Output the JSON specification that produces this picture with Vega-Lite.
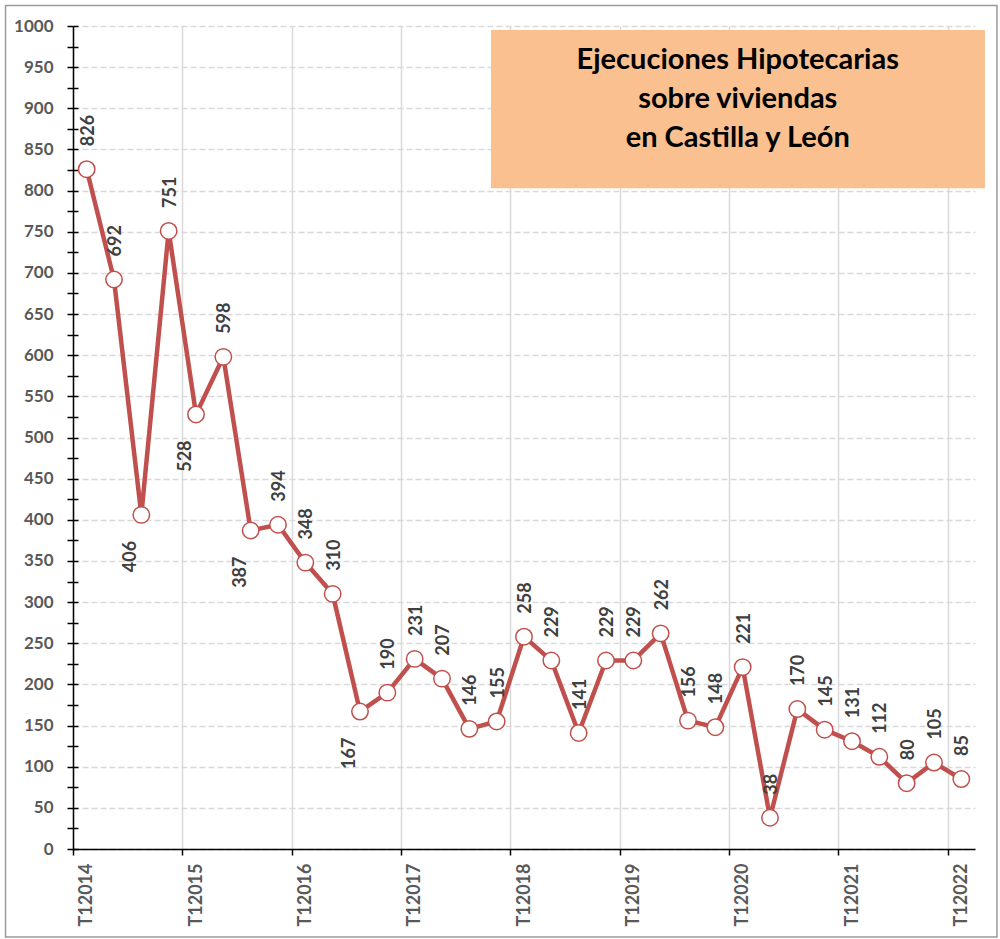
{
  "$schema": "https://vega.github.io/schema/vega-lite/v6.json",
  "width": 902,
  "height": 823,
  "autosize": {"type": "none"},
  "padding": {"left": 73, "top": 26, "right": 25, "bottom": 90},
  "background": "white",
  "config": {"view": {"stroke": null}, "font": "Lato"},
  "datasets": {
    "serie": [
      {"periodo": "T1 2014", "t": 2014.125, "valor": 826},
      {"periodo": "T2 2014", "t": 2014.375, "valor": 692},
      {"periodo": "T3 2014", "t": 2014.625, "valor": 406},
      {"periodo": "T4 2014", "t": 2014.875, "valor": 751},
      {"periodo": "T1 2015", "t": 2015.125, "valor": 528},
      {"periodo": "T2 2015", "t": 2015.375, "valor": 598},
      {"periodo": "T3 2015", "t": 2015.625, "valor": 387},
      {"periodo": "T4 2015", "t": 2015.875, "valor": 394},
      {"periodo": "T1 2016", "t": 2016.125, "valor": 348},
      {"periodo": "T2 2016", "t": 2016.375, "valor": 310},
      {"periodo": "T3 2016", "t": 2016.625, "valor": 167},
      {"periodo": "T4 2016", "t": 2016.875, "valor": 190},
      {"periodo": "T1 2017", "t": 2017.125, "valor": 231},
      {"periodo": "T2 2017", "t": 2017.375, "valor": 207},
      {"periodo": "T3 2017", "t": 2017.625, "valor": 146},
      {"periodo": "T4 2017", "t": 2017.875, "valor": 155},
      {"periodo": "T1 2018", "t": 2018.125, "valor": 258},
      {"periodo": "T2 2018", "t": 2018.375, "valor": 229},
      {"periodo": "T3 2018", "t": 2018.625, "valor": 141},
      {"periodo": "T4 2018", "t": 2018.875, "valor": 229},
      {"periodo": "T1 2019", "t": 2019.125, "valor": 229},
      {"periodo": "T2 2019", "t": 2019.375, "valor": 262},
      {"periodo": "T3 2019", "t": 2019.625, "valor": 156},
      {"periodo": "T4 2019", "t": 2019.875, "valor": 148},
      {"periodo": "T1 2020", "t": 2020.125, "valor": 221},
      {"periodo": "T2 2020", "t": 2020.375, "valor": 38},
      {"periodo": "T3 2020", "t": 2020.625, "valor": 170},
      {"periodo": "T4 2020", "t": 2020.875, "valor": 145},
      {"periodo": "T1 2021", "t": 2021.125, "valor": 131},
      {"periodo": "T2 2021", "t": 2021.375, "valor": 112},
      {"periodo": "T3 2021", "t": 2021.625, "valor": 80},
      {"periodo": "T4 2021", "t": 2021.875, "valor": 105},
      {"periodo": "T1 2022", "t": 2022.125, "valor": 85}
    ],
    "marco": [{"x": 2013.383, "x2": 2022.451, "y": 1025, "y2": -107}],
    "recuadro": [{"x": 2017.823, "x2": 2022.341, "y": 995, "y2": 803}],
    "titulo": [{"x": 2020.08, "y": 958.7, "texto": "Ejecuciones Hipotecarias\nsobre viviendas\nen Castilla y León"}]
  },
  "resolve": {"axis": {"y": "independent"}},
  "layer": [
    {
      "data": {"name": "marco"},
      "mark": {"type": "rect", "filled": false, "stroke": "#9a9a9a", "strokeWidth": 1.5},
      "encoding": {
        "x": {"field": "x", "type": "quantitative", "scale": {"domain": [2014, 2022.25], "nice": false, "zero": false}, "title": null},
        "x2": {"field": "x2"},
        "y": {"field": "y", "type": "quantitative", "scale": {"domain": [0, 1000], "nice": false}, "axis": null},
        "y2": {"field": "y2"}
      }
    },
    {
      "data": {"name": "recuadro"},
      "mark": {"type": "rect", "fill": "#FAC090"},
      "encoding": {
        "x": {"field": "x", "type": "quantitative", "scale": {"domain": [2014, 2022.25], "nice": false, "zero": false}, "title": null},
        "x2": {"field": "x2"},
        "y": {"field": "y", "type": "quantitative", "scale": {"domain": [0, 1000], "nice": false}, "axis": null},
        "y2": {"field": "y2"}
      }
    },
    {
      "data": {"name": "titulo"},
      "mark": {"type": "text", "lineBreak": "\n", "lineHeight": 39, "align": "center", "baseline": "middle", "font": "Lato", "fontSize": 29, "fontWeight": "bold", "color": "#000000"},
      "encoding": {
        "x": {"field": "x", "type": "quantitative", "scale": {"domain": [2014, 2022.25], "nice": false, "zero": false}, "title": null},
        "y": {"field": "y", "type": "quantitative", "scale": {"domain": [0, 1000], "nice": false}, "axis": null},
        "text": {"field": "texto", "type": "nominal"}
      }
    },
    {
      "data": {"name": "serie"},
      "mark": {"type": "line", "color": "#C0504D", "strokeWidth": 4.5},
      "encoding": {
        "x": {
          "field": "t", "type": "quantitative",
          "scale": {"domain": [2014, 2022.25], "nice": false, "zero": false},
          "title": null,
          "axis": {
            "values": [2014, 2015, 2016, 2017, 2018, 2019, 2020, 2021, 2022],
            "format": "d",
            "labelExpr": "'T1' + datum.value",
            "labelAngle": 270,
            "labelAlign": "right",
            "labelBaseline": "middle",
            "labelOffset": 13.67,
            "labelPadding": 8,
            "labelFlush": false,
            "labelOverlap": false,
            "labelFont": "Lato",
            "labelFontSize": 18,
            "labelFontWeight": "bold",
            "labelColor": "#595959",
            "tickSize": 6,
            "tickColor": "#000000",
            "tickWidth": 1.5,
            "domainColor": "#000000",
            "domainWidth": 1.5,
            "grid": true,
            "gridColor": "#D9D9D9",
            "gridWidth": 1.5
          }
        },
        "y": {
          "field": "valor", "type": "quantitative",
          "scale": {"domain": [0, 1000], "nice": false},
          "title": null,
          "axis": {
            "values": [0, 25, 50, 75, 100, 125, 150, 175, 200, 225, 250, 275, 300, 325, 350, 375, 400, 425, 450, 475, 500, 525, 550, 575, 600, 625, 650, 675, 700, 725, 750, 775, 800, 825, 850, 875, 900, 925, 950, 975, 1000],
            "format": "d",
            "labelExpr": "datum.value % 50 === 0 ? datum.label : ''",
            "labelOverlap": false,
            "labelFlush": false,
            "labelPadding": 14,
            "labelFont": "Lato",
            "labelFontSize": 17,
            "labelFontWeight": "bold",
            "labelColor": "#595959",
            "tickSize": 6,
            "tickColor": "#000000",
            "tickWidth": 1.5,
            "domainColor": "#000000",
            "domainWidth": 1.5,
            "grid": true,
            "gridColor": "#D9D9D9",
            "gridDash": [6, 3],
            "gridWidth": 1.3,
            "gridOpacity": {"condition": {"test": "datum.value % 50 === 0", "value": 1}, "value": 0}
          }
        }
      }
    },
    {
      "data": {"name": "serie"},
      "mark": {"type": "point", "shape": "circle", "filled": true, "fill": "#FFFFFF", "stroke": "#C0504D", "strokeWidth": 1.5, "size": 270, "opacity": 1},
      "encoding": {
        "x": {"field": "t", "type": "quantitative", "scale": {"domain": [2014, 2022.25], "nice": false, "zero": false}, "title": null},
        "y": {
          "field": "valor", "type": "quantitative",
          "scale": {"domain": [0, 1000], "nice": false},
          "title": null,
          "axis": {
            "orient": "right",
            "offset": -902,
            "values": [0, 25, 50, 75, 100, 125, 150, 175, 200, 225, 250, 275, 300, 325, 350, 375, 400, 425, 450, 475, 500, 525, 550, 575, 600, 625, 650, 675, 700, 725, 750, 775, 800, 825, 850, 875, 900, 925, 950, 975, 1000],
            "labels": false,
            "domain": false,
            "grid": false,
            "ticks": true,
            "tickSize": 5,
            "tickColor": "#000000",
            "tickWidth": 1.5
          }
        }
      }
    },
    {
      "data": {"name": "serie"},
      "transform": [{"filter": "indexof(['T3 2014', 'T1 2015', 'T3 2015', 'T3 2016'], datum.periodo) < 0"}],
      "mark": {"type": "text", "angle": 270, "align": "left", "baseline": "middle", "dx": 23, "dy": 2, "font": "Lato", "fontSize": 18, "fontWeight": "bold", "color": "#404040"},
      "encoding": {
        "x": {"field": "t", "type": "quantitative", "scale": {"domain": [2014, 2022.25], "nice": false, "zero": false}, "title": null},
        "y": {"field": "valor", "type": "quantitative", "scale": {"domain": [0, 1000], "nice": false}, "axis": null},
        "text": {"field": "valor", "type": "quantitative", "format": "d"}
      }
    },
    {
      "data": {"name": "serie"},
      "transform": [{"filter": "indexof(['T3 2014', 'T1 2015', 'T3 2015', 'T3 2016'], datum.periodo) >= 0"}],
      "mark": {"type": "text", "angle": 270, "align": "right", "baseline": "middle", "dx": -26, "dy": -10, "font": "Lato", "fontSize": 18, "fontWeight": "bold", "color": "#404040"},
      "encoding": {
        "x": {"field": "t", "type": "quantitative", "scale": {"domain": [2014, 2022.25], "nice": false, "zero": false}, "title": null},
        "y": {"field": "valor", "type": "quantitative", "scale": {"domain": [0, 1000], "nice": false}, "axis": null},
        "text": {"field": "valor", "type": "quantitative", "format": "d"}
      }
    }
  ]
}
